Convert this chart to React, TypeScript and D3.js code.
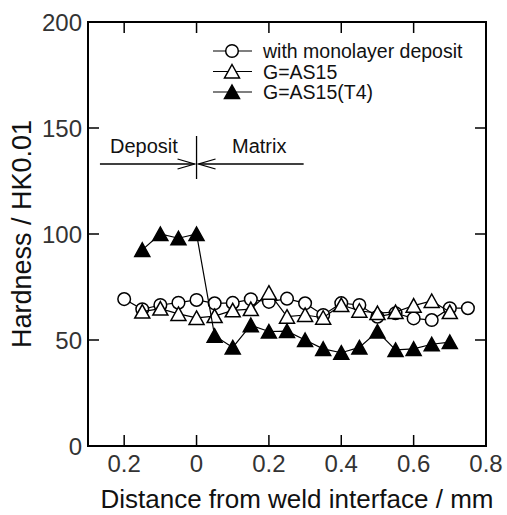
import React, { useEffect, useRef } from 'react';
import * as d3 from 'd3';

// distance from weld interface (mm), 0.05 mm steps
const xCircle = [-0.2, -0.15, -0.1, -0.05, 0, 0.05, 0.1, 0.15, 0.2, 0.25, 0.3, 0.35, 0.4, 0.45, 0.5, 0.55, 0.6, 0.65, 0.7, 0.75];
const monolayer = [69.3, 64.5, 66.5, 67.6, 68.9, 67.3, 67.5, 69.2, 68, 69.5, 67.3, 61.8, 67.4, 66.5, 61, 62.6, 60.2, 59.4, 65, 65];

const xOpen = [-0.15, -0.1, -0.05, 0, 0.05, 0.1, 0.15, 0.2, 0.25, 0.3, 0.35, 0.4, 0.45, 0.5, 0.55, 0.6, 0.65, 0.7];
const as15 = [63.4, 64.8, 62.3, 60.4, 61.3, 64, 64.6, 72.3, 61, 61.8, 60.5, 66.5, 63.8, 62.7, 63.2, 66.2, 68.4, 63.2];

const xFilled = [-0.15, -0.1, -0.05, 0, 0.05, 0.1, 0.15, 0.2, 0.25, 0.3, 0.35, 0.4, 0.45, 0.5, 0.55, 0.6, 0.65, 0.7];
const as15T4 = [92.5, 100, 98, 100, 52, 46.5, 57, 54, 54.2, 50, 45.8, 44, 46.5, 54, 45.3, 45.8, 48, 49];

const seriesNames = ['with monolayer deposit', 'G=AS15', 'G=AS15(T4)'];

const xTicks = [-0.2, 0, 0.2, 0.4, 0.6, 0.8];
const xTickLabels = ['0.2', '0', '0.2', '0.4', '0.6', '0.8'];
const yTicks = [0, 50, 100, 150, 200];

const W = 507, H = 515;
const FONT = '"Liberation Sans", Arial, sans-serif';

function App() {
  const svgRef = useRef<SVGSVGElement>(null);

  useEffect(() => {
    const svg = d3.select(svgRef.current);
    svg.selectAll('*').remove();

    const x = d3.scaleLinear().domain([-0.3, 0.8]).range([88, 486]);
    const y = d3.scaleLinear().domain([0, 200]).range([446, 22]);
    const [x0, x1] = x.range();
    const [y0, y1] = y.range();
    const tick = 11;

    // frame
    svg.append('rect')
      .attr('x', x0).attr('y', y1)
      .attr('width', x1 - x0).attr('height', y0 - y1)
      .attr('fill', 'none').attr('stroke', '#000').attr('stroke-width', 2);

    // inward ticks
    xTicks.filter(v => v > -0.3 && v < 0.8).forEach(v => {
      svg.append('line').attr('x1', x(v)).attr('x2', x(v)).attr('y1', y0).attr('y2', y0 - tick)
        .attr('stroke', '#000').attr('stroke-width', 1.5);
      svg.append('line').attr('x1', x(v)).attr('x2', x(v)).attr('y1', y1).attr('y2', y1 + tick)
        .attr('stroke', '#000').attr('stroke-width', 1.5);
    });
    yTicks.filter(v => v > 0 && v < 200).forEach(v => {
      svg.append('line').attr('x1', x0).attr('x2', x0 + tick).attr('y1', y(v)).attr('y2', y(v))
        .attr('stroke', '#000').attr('stroke-width', 1.5);
      svg.append('line').attr('x1', x1).attr('x2', x1 - tick).attr('y1', y(v)).attr('y2', y(v))
        .attr('stroke', '#000').attr('stroke-width', 1.5);
    });

    // tick labels
    svg.append('g').selectAll('text').data(xTicks).join('text')
      .attr('x', d => x(d)).attr('y', 472)
      .attr('text-anchor', 'middle')
      .attr('font-family', FONT).attr('font-size', 24).attr('fill', '#333')
      .text((d, i) => xTickLabels[i]);
    svg.append('g').selectAll('text').data(yTicks).join('text')
      .attr('x', 82).attr('y', d => y(d) + 8.5)
      .attr('text-anchor', 'end')
      .attr('font-family', FONT).attr('font-size', 24).attr('fill', '#333')
      .text(d => d);

    // axis titles
    svg.append('text')
      .attr('x', 297).attr('y', 508)
      .attr('text-anchor', 'middle')
      .attr('font-family', FONT).attr('font-size', 26).attr('fill', '#111')
      .text('Distance from weld interface / mm');
    svg.append('text')
      .attr('transform', 'translate(31,234) rotate(-90)')
      .attr('text-anchor', 'middle')
      .attr('font-family', FONT).attr('font-size', 27).attr('fill', '#111')
      .text('Hardness / HK0.01');

    // markers
    const tri = (g: any, cx: number, cy: number, filled: boolean) => {
      const w = 7.5, h = 13;
      g.append('path')
        .attr('d', `M${cx},${cy - h / 2 - 0.5}L${cx + w},${cy + h / 2}L${cx - w},${cy + h / 2}Z`)
        .attr('fill', filled ? '#000' : '#fff')
        .attr('stroke', '#000').attr('stroke-width', 1.5)
        .attr('stroke-linejoin', 'miter');
    };
    const circ = (g: any, cx: number, cy: number) => {
      g.append('circle').attr('cx', cx).attr('cy', cy).attr('r', 6.3)
        .attr('fill', '#fff').attr('stroke', '#000').attr('stroke-width', 1.5);
    };

    const line = d3.line<[number, number]>().x(d => x(d[0])).y(d => y(d[1]));
    const series = [
      { xs: xCircle, ys: monolayer, kind: 'circle' },
      { xs: xOpen, ys: as15, kind: 'open' },
      { xs: xFilled, ys: as15T4, kind: 'filled' },
    ];
    series.forEach(s => {
      const pts = s.xs.map((v, i) => [v, s.ys[i]] as [number, number]);
      const g = svg.append('g');
      g.append('path').attr('d', line(pts)).attr('fill', 'none')
        .attr('stroke', '#000').attr('stroke-width', 1.2);
      pts.forEach(p => {
        if (s.kind === 'circle') circ(g, x(p[0]), y(p[1]));
        else tri(g, x(p[0]), y(p[1]), s.kind === 'filled');
      });
    });

    // legend
    const legY = [51, 71.5, 92];
    series.forEach((s, i) => {
      const g = svg.append('g');
      g.append('line').attr('x1', 213).attr('x2', 252).attr('y1', legY[i]).attr('y2', legY[i])
        .attr('stroke', '#000').attr('stroke-width', 1.2);
      if (s.kind === 'circle') circ(g, 232, legY[i]);
      else tri(g, 232, legY[i], s.kind === 'filled');
      g.append('text').attr('x', 263).attr('y', legY[i] + 7)
        .attr('font-family', FONT).attr('font-size', 19.5).attr('fill', '#111')
        .text(seriesNames[i]);
    });

    // Deposit / Matrix annotation
    const ay = 164;
    const a = svg.append('g').attr('stroke', '#000').attr('stroke-width', 1.3).attr('fill', 'none');
    a.append('line').attr('x1', x(0)).attr('x2', x(0)).attr('y1', 136).attr('y2', 179);
    a.append('line').attr('x1', x(-0.267)).attr('x2', x(0) - 2).attr('y1', ay).attr('y2', ay);
    a.append('line').attr('x1', x(0) + 2).attr('x2', x(0.296)).attr('y1', ay).attr('y2', ay);
    a.append('path').attr('d', `M${x(0) - 19},${ay - 5}L${x(0) - 2},${ay}L${x(0) - 19},${ay + 5}`);
    a.append('path').attr('d', `M${x(0) + 19},${ay - 5}L${x(0) + 2},${ay}L${x(0) + 19},${ay + 5}`);
    svg.append('text').attr('x', 110).attr('y', 153)
      .attr('font-family', FONT).attr('font-size', 20).attr('fill', '#111').text('Deposit');
    svg.append('text').attr('x', 232).attr('y', 153)
      .attr('font-family', FONT).attr('font-size', 20).attr('fill', '#111').text('Matrix');
  }, []);

  return (
    <svg ref={svgRef} width={W} height={H}
      style={{ position: 'absolute', left: 0, top: 0, background: '#fff' }} />
  );
}

export default App;
